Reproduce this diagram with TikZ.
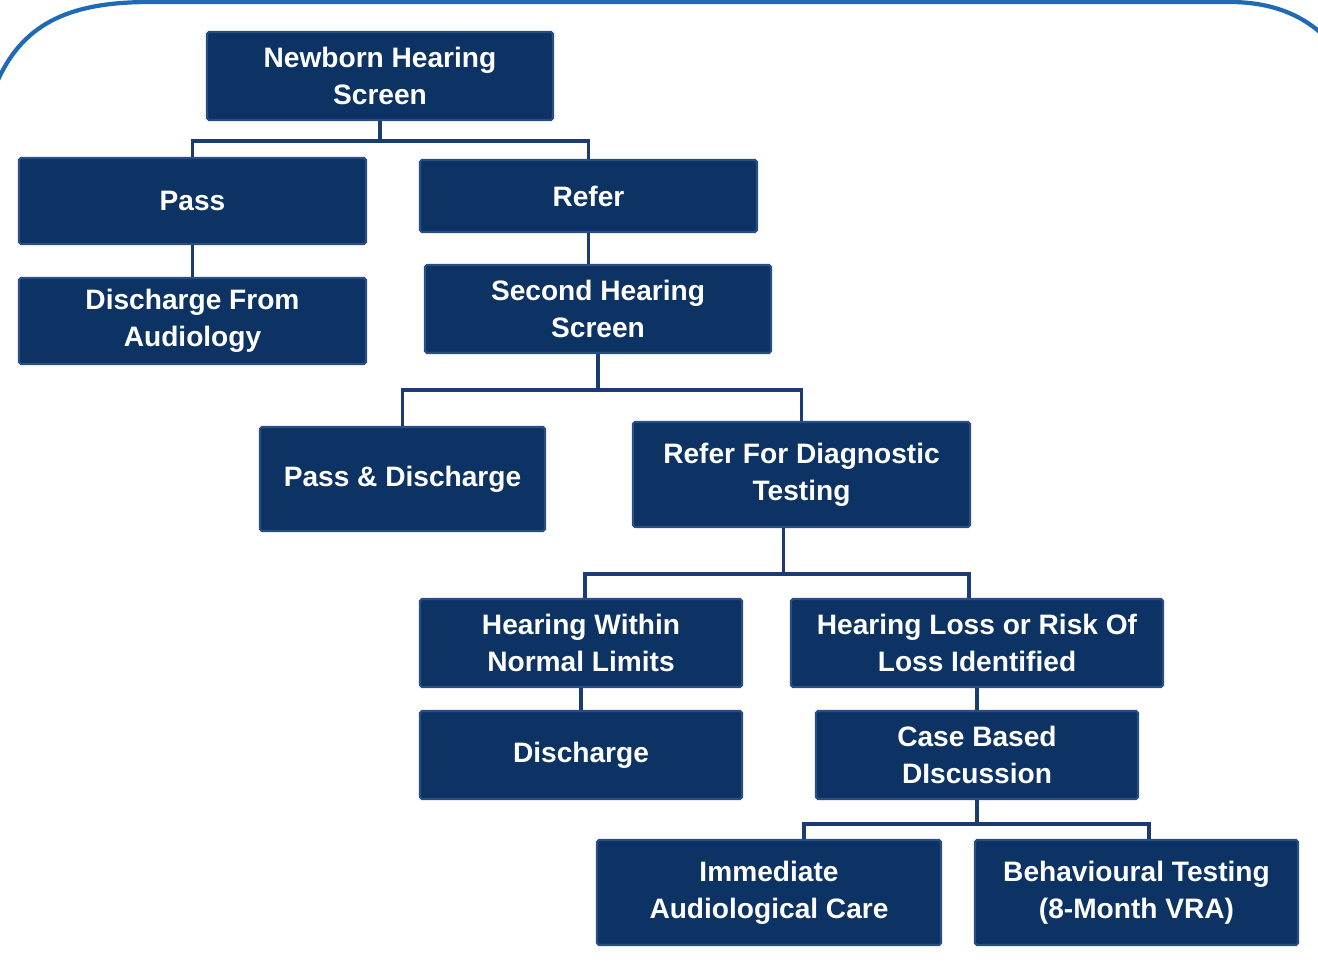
\documentclass[tikz,border=0pt]{standalone}
\usepackage[rgb]{xcolor}
\usepackage{fontspec}
\setmainfont{Liberation Sans}
\usepackage{tikz}

\definecolor{boxnavy}{HTML}{0C3363}
\definecolor{boxedge}{HTML}{2A4E84}
\definecolor{linknavy}{HTML}{1C3B72}
\definecolor{frameblue}{HTML}{1E6AB4}

\tikzset{
  box/.style={draw=boxedge, line width=1.2pt, fill=boxnavy, rounded corners=1pt,
    text=white, align=center, inner sep=0pt,
    font=\bfseries\fontsize{16}{21}\selectfont},
  link/.style={draw=linknavy, line width=2.2pt}
}

\begin{document}
\begin{tikzpicture}[x=0.02cm, y=-0.02cm]

\useasboundingbox (0,0) rectangle (1318,961);

%% frame arc along the top
\draw[frameblue, line width=2.4pt]
 (-2,80) .. controls (25,20) and (75,2) .. (150,2) -- (1230,2)
 .. controls (1270,2) and (1300,14) .. (1322,34);

%% first screen
\path
(380,76) node[box, minimum width=6.92cm, minimum height=1.76cm] (newborn){Newborn Hearing\\Screen}
(192.5,201) node[box, minimum width=6.94cm, minimum height=1.72cm] (pass){Pass}
(588.5,196) node[box, minimum width=6.74cm, minimum height=1.44cm] (refer){Refer}
(192.5,321) node[box, minimum width=6.94cm, minimum height=1.72cm] (dischargeaud){Discharge From\\Audiology}
(598,309) node[box, minimum width=6.92cm, minimum height=1.76cm] (second){Second Hearing\\Screen};

%% second screen
\path
(402.5,479) node[box, minimum width=5.70cm, minimum height=2.08cm] (passdis){Pass \& Discharge}
(801.5,474.5) node[box, minimum width=6.74cm, minimum height=2.10cm] (diag){Refer For Diagnostic\\Testing};

%% diagnostic testing
\path
(581,643) node[box, minimum width=6.44cm, minimum height=1.76cm] (normal){Hearing Within\\Normal Limits}
(977,643) node[box, minimum width=7.44cm, minimum height=1.76cm] (loss){Hearing Loss or Risk Of\\Loss Identified}
(581,755) node[box, minimum width=6.44cm, minimum height=1.76cm] (discharge){Discharge}
(977,755) node[box, minimum width=6.44cm, minimum height=1.76cm] (casebased){Case Based\\DIscussion}
(769,892.5) node[box, minimum width=6.88cm, minimum height=2.10cm] (immediate){Immediate\\Audiological Care}
(1136.5,892.5) node[box, minimum width=6.46cm, minimum height=2.10cm] (behaviour){Behavioural Testing\\(8-Month VRA)};

%% connectors
\draw[link] (newborn.south) -- ++(0,20) coordinate (jnewborn);
\draw[link] (pass.north) |- (jnewborn) -| (refer.north);
\draw[link] (pass.south) -- (dischargeaud.north);
\draw[link] (refer.south) -- (refer.south |- second.north);

\draw[link] (second.south) -- ++(0,36) coordinate (jsecond);
\draw[link] (passdis.north) |- (jsecond) -| (diag.north);

\draw[link] ([xshift=-0.36cm]diag.south) -- ++(0,46) coordinate (jdiag);
\draw[link] ([xshift=0.08cm]normal.north) |- (jdiag) -| ([xshift=-0.16cm]loss.north);
\draw[link] (normal.south) -- (discharge.north);
\draw[link] (loss.south) -- (casebased.north);

\draw[link] (casebased.south) -- ++(0,24) coordinate (jcase);
\draw[link] ([xshift=0.70cm]immediate.north) |- (jcase) -| ([xshift=0.25cm]behaviour.north);

\end{tikzpicture}
\end{document}
